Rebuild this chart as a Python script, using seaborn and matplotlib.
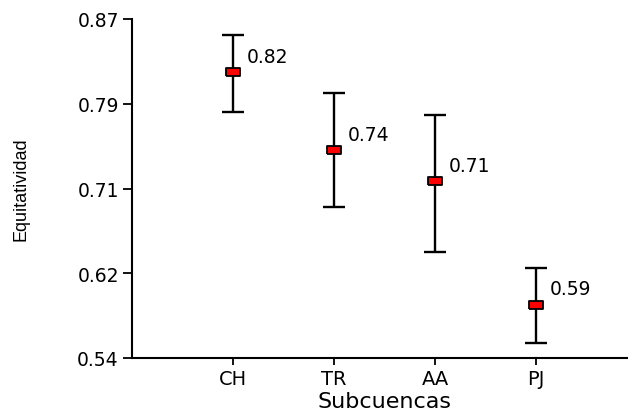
import numpy as np
import pandas as pd
import matplotlib
matplotlib.use("Agg")
import matplotlib.pyplot as plt
import seaborn as sns

categories = ["CH", "TR", "AA", "PJ"]
means = [0.818, 0.742, 0.712, 0.592]
lower = [0.779, 0.687, 0.643, 0.555]
upper = [0.854, 0.798, 0.777, 0.628]
labels = ["0.82", "0.74", "0.71", "0.59"]
yticks = [0.54, 0.62, 0.71, 0.79, 0.87]

sns.set_style("white")
plt.rcParams["font.family"] = ["DejaVu Sans"]
plt.rcParams["text.color"] = "black"
plt.rcParams["axes.labelcolor"] = "black"
plt.rcParams["xtick.color"] = "black"
plt.rcParams["ytick.color"] = "black"

fig = plt.figure(figsize=(6.28, 4.14), dpi=100)
ax = fig.add_axes([132 / 628, 55 / 414, 505 / 628, 339 / 414])

pos = np.arange(1, len(categories) + 1)
df = pd.DataFrame({"pos": pos, "mean": means, "lo": lower, "hi": upper})

yerr = np.vstack([df["mean"] - df["lo"], df["hi"] - df["mean"]])
ax.errorbar(df["pos"], df["mean"], yerr=yerr, fmt="none", ecolor="black",
            elinewidth=1.7, capsize=8, capthick=1.7, zorder=2)

rect = [(-1.65, -1), (1.65, -1), (1.65, 1), (-1.65, 1), (-1.65, -1)]
sns.scatterplot(data=df, x="pos", y="mean", marker=rect, s=95, color="#ff0000",
                edgecolor="black", linewidth=1.3, zorder=3, ax=ax)

for x, y, t in zip(pos, means, labels):
    ax.annotate(t, (x, y), xytext=(10, 11.5), textcoords="offset points",
                fontsize=13.5, ha="left", va="center")

ax.set_xlim(0, 5)
ax.set_ylim(0.54, 0.87)
ax.set_yticks(np.linspace(0.54, 0.87, 5))
ax.set_yticklabels([f"{v:.2f}" for v in yticks], fontsize=13.5)
ax.set_xticks(pos)
ax.set_xticklabels(categories, fontsize=14)

for s in ["top", "right"]:
    ax.spines[s].set_visible(False)
for s in ["left", "bottom"]:
    ax.spines[s].set_linewidth(1.5)
    ax.spines[s].set_color("black")
ax.tick_params(axis="y", direction="out", length=6.5, width=1.3, left=True, pad=3)
ax.tick_params(axis="x", direction="out", length=5, width=1.3, bottom=True, pad=3)

ax.set_xlabel("Subcuencas", fontsize=16, labelpad=2)
ax.set_ylabel("Equitatividad", fontsize=13, va="center", family="Liberation Sans")
ax.yaxis.set_label_coords(-0.22, 0.5)

fig.savefig("out.png", dpi=100)
